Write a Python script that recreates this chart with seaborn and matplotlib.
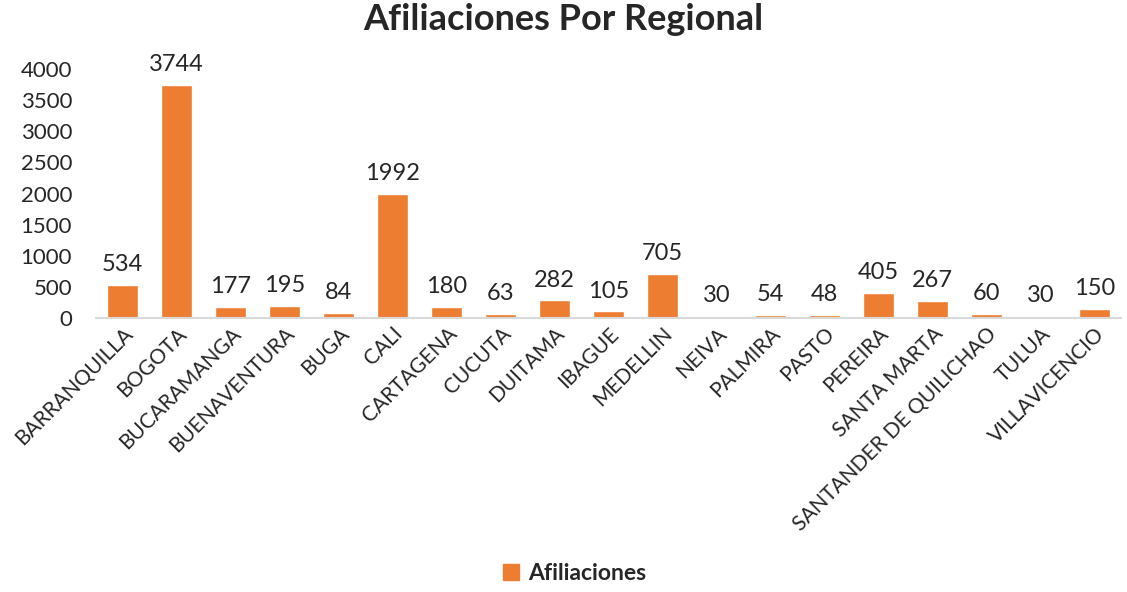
import matplotlib
matplotlib.use("Agg")
import matplotlib.pyplot as plt
import seaborn as sns
import pandas as pd
from matplotlib.patches import Patch

regions = ["BARRANQUILLA", "BOGOTA", "BUCARAMANGA", "BUENAVENTURA", "BUGA", "CALI",
           "CARTAGENA", "CUCUTA", "DUITAMA", "IBAGUE", "MEDELLIN", "NEIVA", "PALMIRA",
           "PASTO", "PEREIRA", "SANTA MARTA", "SANTANDER DE QUILICHAO", "TULUA", "VILLAVICENCIO"]
values = [534, 3744, 177, 195, 84, 1992, 180, 63, 282, 105, 705, 30, 54, 48, 405, 267, 60, 30, 150]
yticks = [0, 500, 1000, 1500, 2000, 2500, 3000, 3500, 4000]

sns.set_style("white")
plt.rcParams['font.family'] = ['Lato', 'DejaVu Sans']

df = pd.DataFrame({"Regional": regions, "Afiliaciones": values})
color = "#ED7D31"

fig = plt.figure(figsize=(11.27, 5.92), dpi=100)
ax = fig.add_axes([0.085, 0.4628, 0.91, 0.4206])
sns.barplot(data=df, x="Regional", y="Afiliaciones", color=color, width=0.57,
            saturation=1, ax=ax)
ax.set_ylim(0, 4000)
ax.set_yticks(yticks)
ax.set_yticklabels([str(t) for t in yticks], fontsize=16)
ax.tick_params(axis='y', length=0, pad=17)
ax.tick_params(axis='x', length=0, pad=4)
ax.set_xticks(range(len(regions)))
ax.set_xticklabels(regions, rotation=45, ha='right', rotation_mode='anchor', fontsize=15)
ax.set_xlabel("")
ax.set_ylabel("")
for s in ["top", "right", "left"]:
    ax.spines[s].set_visible(False)
ax.spines["bottom"].set_color("#D9D9D9")
ax.spines["bottom"].set_linewidth(1.5)

for i, v in enumerate(values):
    ax.text(i, v + 160, str(v), ha='center', va='bottom', fontsize=17)

fig.suptitle("Afiliaciones Por Regional", fontsize=26, fontweight='bold', y=0.995)
fig.legend(handles=[Patch(color=color, label="Afiliaciones")], loc='center',
           bbox_to_anchor=(0.51, 0.032), frameon=False, prop={'weight': 'bold', 'size': 16.5},
           handlelength=0.7, handleheight=0.7, handletextpad=0.4)

fig.savefig("out.png", dpi=100)
